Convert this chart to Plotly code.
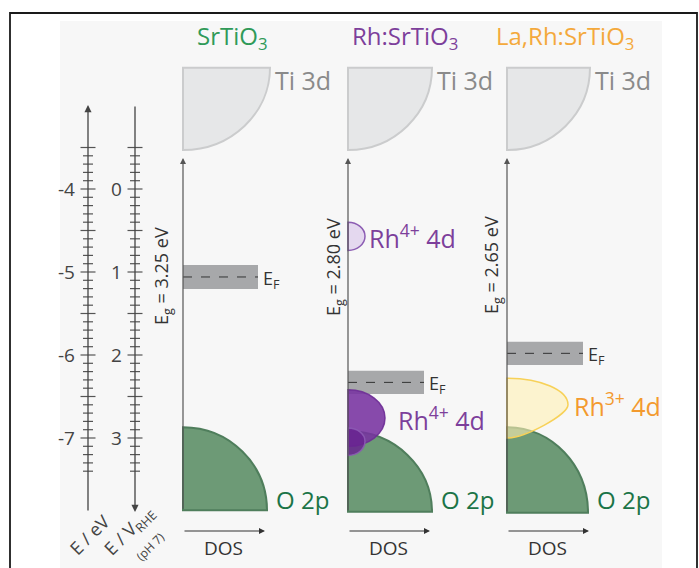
import numpy as np
import plotly.graph_objects as go

# ---------------- data (energies in eV vs vacuum, DOS in arbitrary units) ----------------
materials = ["SrTiO<sub>3</sub>", "Rh:SrTiO<sub>3</sub>", "La,Rh:SrTiO<sub>3</sub>"]
band_gaps = ["3.25", "2.80", "2.65"]
ti3d_top = [-2.54, -2.54, -2.54]
cb_min = [-3.53, -3.53, -3.53]
fermi = [-5.06, -6.33, -5.98]
fermi_halfwidth = [0.145, 0.14, 0.14]
vb_max = [-6.87, -6.92, -6.87]
o2p_bottom = [-7.87, -7.89, -7.90]
ti3d_dos = [87, 84, 83]
o2p_dos = [84, 84, 81]
fermi_dos = [75, 76, 76]

# Rh 4d states
rh_panel = [1, 1, 1, 2]
rh_label = ["Rh<sup>4+</sup> 4d", "Rh<sup>4+</sup> 4d", "", "Rh<sup>3+</sup> 4d"]
rh_top = [-4.40, -6.42, -6.88, -6.28]
rh_peak = [-4.57, -6.76, -7.04, -6.60]
rh_bottom = [-4.74, -7.10, -7.21, -7.00]
rh_dos = [17, 37, 17, 61]

ev_tick_labels = ["-4", "-5", "-6", "-7"]
ev_tick_values = [-4, -5, -6, -7]
rhe_tick_labels = ["0", "1", "2", "3"]
rhe_tick_values = [0, 1, 2, 3]

# ---------------- layout helpers ----------------
W, H = 699, 568
PX_PER_EV = 83.0
Y_REF_PX, E_REF = 189.0, -4.0


def E(py):
    """pixel row -> energy (for layout positions only)"""
    return E_REF - (py - Y_REF_PX) / PX_PER_EV


panel_x = [183, 348, 507]
FONT = "Open Sans"
GREEN_T = "#1b7447"
TITLE_COL = ["#2f9a58", "#7d3f9b", "#f4a93c"]
PURPLE = "#7d3f9b"
ORANGE = "#f39a2e"
GREY_T = "#8a8a8a"

fig = go.Figure()
shapes = []
ann = []

# background panel and border
shapes.append(dict(type="rect", xref="x", yref="y", x0=60, x1=662, y0=E(568), y1=E(21),
                   fillcolor="#f7f7f7", line=dict(width=0), layer="below"))
shapes.append(dict(type="rect", xref="x", yref="y", x0=10, x1=697, y0=E(600), y1=E(13),
                   fillcolor="rgba(0,0,0,0)", line=dict(color="#1a1a1a", width=1.8)))


def lobe(x0, top, peak, bot, w, kt=0.5523, kb=0.5523):
    return (f"M {x0},{top} C {x0 + kt * w},{top} {x0 + w},{peak + kt * (top - peak)} {x0 + w},{peak} "
            f"C {x0 + w},{peak - kb * (peak - bot)} {x0 + kb * w},{bot} {x0},{bot} Z")


# ---------------- energy scales ----------------
AX_COL = "#555555"
for axis_x in (88, 135):
    vals = np.round(np.arange(-3.5, -7.45, -0.1), 2)
    xs, ys = [], []
    for v in vals:
        major = abs(v * 2 - round(v * 2)) < 1e-6
        half = 7.5 if major else 5.0
        xs += [axis_x - half, axis_x + half, None]
        ys += [v, v, None]
    fig.add_trace(go.Scatter(x=xs, y=ys, mode="lines", line=dict(color=AX_COL, width=1.2),
                             hoverinfo="skip", showlegend=False))

# axis arrows
ann.append(dict(x=88, y=E(105), ax=88, ay=E(512), xref="x", yref="y", axref="x", ayref="y",
                text="", showarrow=True, arrowhead=2, arrowsize=1.1, arrowwidth=1.3, arrowcolor="#444"))
ann.append(dict(x=135, y=E(512), ax=135, ay=E(105), xref="x", yref="y", axref="x", ayref="y",
                text="", showarrow=True, arrowhead=2, arrowsize=1.1, arrowwidth=1.3, arrowcolor="#444"))

for lab, v in zip(ev_tick_labels, ev_tick_values):
    ann.append(dict(x=77, y=v, xref="x", yref="y", text=lab, showarrow=False, xanchor="right",
                    yanchor="middle", font=dict(family=FONT, size=19, color="#444")))
for lab, v in zip(rhe_tick_labels, rhe_tick_values):
    ann.append(dict(x=124, y=E_REF - v, xref="x", yref="y", text=lab, showarrow=False, xanchor="right",
                    yanchor="middle", font=dict(family=FONT, size=19, color="#444")))

ann.append(dict(x=89, y=E(535), xref="x", yref="y", text="E / eV", showarrow=False, textangle=-45,
                font=dict(family=FONT, size=18, color="#444")))
ann.append(dict(x=129, y=E(531), xref="x", yref="y", text="E / V<sub>RHE</sub>", showarrow=False,
                textangle=-45, font=dict(family=FONT, size=18, color="#444")))
ann.append(dict(x=150, y=E(546), xref="x", yref="y", text="(pH 7)", showarrow=False, textangle=-45,
                font=dict(family=FONT, size=12, color="#444")))

# ---------------- panels ----------------
eg_x = [162, 334, 492]
eg_y = [276, 267, 265]
title_x = [232, 405, 565]
for i in range(3):
    x0 = panel_x[i]
    # Ti 3d
    shapes.append(dict(type="path", xref="x", yref="y",
                       path=lobe(x0, ti3d_top[i], ti3d_top[i], cb_min[i], ti3d_dos[i]),
                       fillcolor="#e6e7e8", line=dict(color="#cbcccd", width=2)))
    # O 2p
    shapes.append(dict(type="path", xref="x", yref="y",
                       path=lobe(x0, vb_max[i], o2p_bottom[i], o2p_bottom[i], o2p_dos[i]),
                       fillcolor="#6d9a76", line=dict(color="#4f7e5c", width=2)))
    # Fermi level band
    shapes.append(dict(type="rect", xref="x", yref="y", x0=x0, x1=x0 + fermi_dos[i],
                       y0=fermi[i] - fermi_halfwidth[i], y1=fermi[i] + fermi_halfwidth[i],
                       fillcolor="#a7a8aa", line=dict(width=0)))
    shapes.append(dict(type="line", xref="x", yref="y", x0=x0, x1=x0 + fermi_dos[i],
                       y0=fermi[i], y1=fermi[i], line=dict(color="#333", width=1, dash="dash")))
    ann.append(dict(x=x0 + fermi_dos[i] + 3, y=fermi[i] - 0.03, xref="x", yref="y",
                    text="E<sub>F</sub>", showarrow=False, xanchor="left", yanchor="middle",
                    font=dict(family=FONT, size=18, color="#333")))
    # energy axis of panel
    ann.append(dict(x=x0, y=E(158), ax=x0, ay=o2p_bottom[i], xref="x", yref="y", axref="x", ayref="y",
                    text="", showarrow=True, arrowhead=2, arrowsize=1.0, arrowwidth=1.2,
                    arrowcolor="#555"))
    # DOS arrow
    ann.append(dict(x=x0 + 82, y=E(531), ax=x0, ay=E(531), xref="x", yref="y", axref="x", ayref="y",
                    text="", showarrow=True, arrowhead=2, arrowsize=1.0, arrowwidth=1.2,
                    arrowcolor="#333"))
    ann.append(dict(x=x0 + 40, y=E(548), xref="x", yref="y", text="DOS", showarrow=False,
                    font=dict(family=FONT, size=19, color="#333")))
    # labels
    ann.append(dict(x=x0 + ti3d_dos[i] + 3, y=E(80), xref="x", yref="y", text="Ti 3d", showarrow=False,
                    xanchor="left", font=dict(family=FONT, size=25, color=GREY_T)))
    ann.append(dict(x=x0 + o2p_dos[i] + 7, y=E(499), xref="x", yref="y", text="O 2p", showarrow=False,
                    xanchor="left", font=dict(family=FONT, size=24, color=GREEN_T)))
    ann.append(dict(x=title_x[i], y=E(37), xref="x", yref="y", text=materials[i], showarrow=False,
                    font=dict(family=FONT, size=24, color=TITLE_COL[i])))
    ann.append(dict(x=eg_x[i], y=E(eg_y[i]), xref="x", yref="y",
                    text=f"E<sub>g</sub> = {band_gaps[i]} eV", showarrow=False, textangle=-90,
                    font=dict(family=FONT, size=18, color="#333")))

# Rh 4d states
rh_fill = ["#e4d8ef", "rgba(120,50,160,0.88)", "rgba(105,35,145,0.85)", "rgba(255,240,180,0.6)"]
rh_line = ["#8c5db3", "rgba(110,45,150,0.9)", "rgba(140,90,180,0.9)", "#f7d158"]
rh_kb = [0.5523, 0.5523, 0.5523, 0.3]
rh_lab_dx = [2, 11, 0, 4]
rh_lab_col = [PURPLE, PURPLE, PURPLE, ORANGE]
for j in range(4):
    x0 = panel_x[rh_panel[j]]
    shapes.append(dict(type="path", xref="x", yref="y",
                       path=lobe(x0, rh_top[j], rh_peak[j], rh_bottom[j], rh_dos[j], kb=rh_kb[j]),
                       fillcolor=rh_fill[j], line=dict(color=rh_line[j], width=1.5)))
    if rh_label[j]:
        ann.append(dict(x=x0 + rh_dos[j] + rh_lab_dx[j], y=rh_peak[j], xref="x", yref="y",
                        text=rh_label[j], showarrow=False, xanchor="left", yanchor="middle",
                        font=dict(family=FONT, size=25, color=rh_lab_col[j])))

fig.update_layout(
    width=W, height=H, margin=dict(l=0, r=0, t=0, b=0),
    paper_bgcolor="white", plot_bgcolor="white",
    xaxis=dict(range=[0, W], visible=False, fixedrange=True),
    yaxis=dict(range=[E(H), E(0)], visible=False, fixedrange=True),
    shapes=shapes, annotations=ann, showlegend=False,
)
fig.write_html("out.html", config={"displayModeBar": False},
               post_script="document.body.style.margin='0';document.body.style.overflow='hidden';")
